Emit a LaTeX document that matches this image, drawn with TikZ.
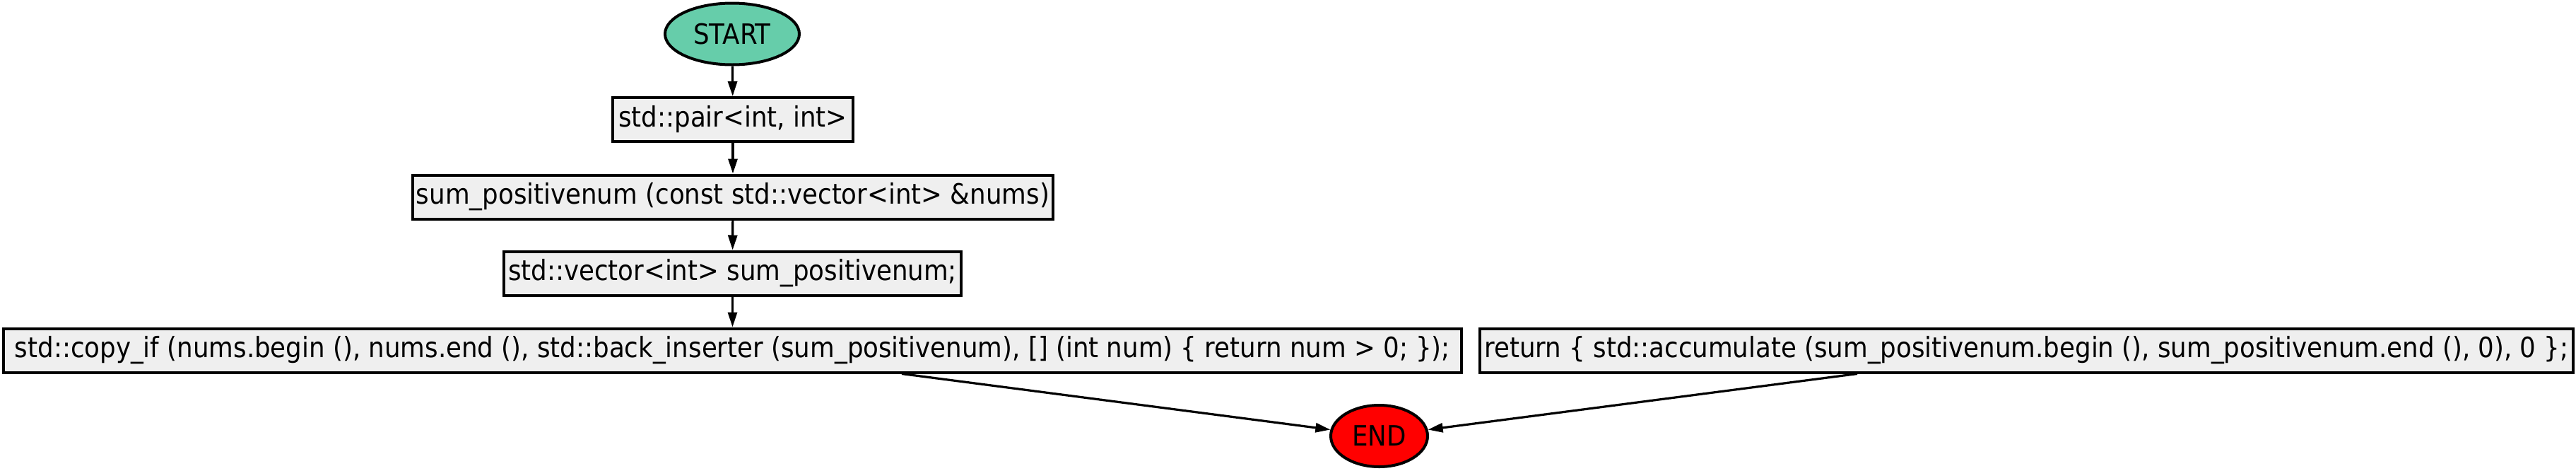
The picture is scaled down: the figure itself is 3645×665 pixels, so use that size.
\documentclass[tikz,border=0pt]{standalone}
\usepackage{fontspec}
\setmainfont{DejaVu Sans Condensed}
\usetikzlibrary{arrows.meta,shapes.geometric}

\definecolor{startgreen}{HTML}{66CDAA}
\definecolor{boxgray}{HTML}{EFEFEF}

\begin{document}
\begin{tikzpicture}[x=0.5pt,y=-0.5pt,
    stmt/.style={draw,line width=2pt,fill=boxgray,minimum height=31pt,inner sep=2pt,font=\fontsize{19.8}{22}\selectfont},
    term/.style={draw,ellipse,line width=2pt,minimum width=95pt,minimum height=43.5pt,inner sep=0pt,font=\fontsize{19.8}{22}\selectfont},
    flow/.style={line width=1.6pt,-{Triangle[length=10.5pt,width=6.5pt]}}]
      \useasboundingbox (0,0) rectangle (3645,665);

      \node [term,fill=startgreen] (start) at (1036,48) {START};
      \node [stmt,minimum width=170pt] (pair) at (1037,169) {std::pair<int, int>};
      \node [stmt,minimum width=453pt] (sumfn) at (1037,278.5) {sum\_positivenum (const std::vector<int> \&nums)};
      \node [stmt,minimum width=323.5pt] (vec) at (1036.5,386.5) {std::vector<int> sum\_positivenum;};
      \node [stmt,minimum width=1031.5pt] (copy) at (1036.5,495.5) {std::copy\_if (nums.begin (), nums.end (), std::back\_inserter (sum\_positivenum), [] (int num) \{ return num > 0; \});};
      \node [stmt,minimum width=773.5pt] (ret) at (2867.5,495.5) {return \{ std::accumulate (sum\_positivenum.begin (), sum\_positivenum.end (), 0), 0 \};};
      \node [term,fill=red,minimum width=68.5pt] (end) at (1951.5,616.5) {END};

      \draw [flow] (start) -- (pair);
      \draw [flow] (pair) -- (sumfn);
      \draw [flow] (sumfn) -- (vec);
      \draw [flow] (vec) -- (copy);
      \draw [flow] ([xshift=119.75pt]copy.south) -- (end);
      \draw [flow] ([xshift=-119.75pt]ret.south) -- (end);

\end{tikzpicture}
\end{document}
